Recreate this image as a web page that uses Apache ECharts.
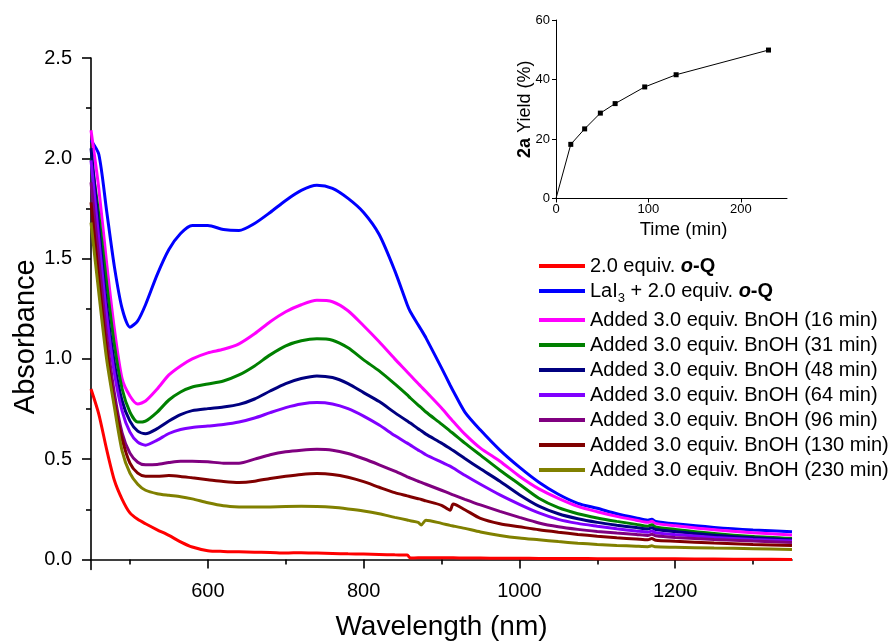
<!DOCTYPE html>
<html><head><meta charset="utf-8">
<script src="https://cdn.jsdelivr.net/npm/echarts@6/dist/echarts.min.js"></script>
<style>html,body{margin:0;padding:0;background:#fff}#c{width:895px;height:641px}</style>
</head><body><div id="c"></div>
<script>
const wavelength = [450,460,470,480,490,500,510,520,535,550,565,580,600,620,640,660,680,700,720,740,760,780,800,820,840,856,860,870,874,880,900,911,915,930,950,975,1000,1025,1050,1075,1100,1125,1150,1165,1170,1175,1200,1250,1300,1350];

const absOQ   = [0.85,0.725,0.55,0.395,0.30,0.232,0.2,0.178,0.148,0.12,0.088,0.062,0.044,0.04,0.038,0.036,0.035,0.032,0.034,0.032,0.03,0.028,0.027,0.025,0.023,0.022,0.007,0.008,0.008,0.008,0.009,0.008,0.008,0.007,0.007,0.006,0.006,0.005,0.005,0.005,0.004,0.004,0.004,0.003,0.004,0.003,0.003,0.002,0.001,0.0];
const absLaI3 = [2.09,2.02,1.74,1.46,1.25,1.158,1.19,1.27,1.42,1.545,1.625,1.665,1.665,1.645,1.64,1.675,1.73,1.79,1.84,1.865,1.85,1.80,1.73,1.62,1.44,1.27,1.235,1.17,1.145,1.105,0.955,0.87,0.84,0.735,0.645,0.545,0.46,0.385,0.325,0.28,0.255,0.228,0.207,0.196,0.2,0.19,0.178,0.16,0.147,0.138];
const abs16   = [2.14,1.85,1.48,1.15,0.90,0.815,0.775,0.79,0.85,0.92,0.965,1.0,1.03,1.048,1.075,1.125,1.185,1.235,1.27,1.292,1.285,1.24,1.165,1.085,1.0,0.935,0.918,0.877,0.861,0.837,0.755,0.705,0.688,0.625,0.555,0.49,0.415,0.352,0.305,0.265,0.238,0.215,0.196,0.185,0.19,0.18,0.168,0.148,0.133,0.122];
const abs31   = [2.0,1.72,1.38,1.07,0.85,0.735,0.685,0.69,0.735,0.795,0.835,0.86,0.875,0.89,0.92,0.965,1.02,1.065,1.09,1.1,1.093,1.055,0.995,0.94,0.875,0.82,0.805,0.77,0.757,0.735,0.675,0.64,0.628,0.58,0.52,0.445,0.375,0.305,0.258,0.228,0.207,0.19,0.175,0.166,0.173,0.162,0.15,0.13,0.115,0.105];
const abs48   = [2.05,1.66,1.27,0.98,0.79,0.69,0.64,0.627,0.652,0.69,0.722,0.742,0.752,0.76,0.773,0.8,0.84,0.877,0.902,0.915,0.907,0.877,0.832,0.787,0.732,0.69,0.68,0.652,0.642,0.625,0.58,0.553,0.543,0.503,0.452,0.39,0.323,0.266,0.228,0.203,0.185,0.171,0.159,0.152,0.158,0.149,0.139,0.121,0.108,0.098];
const abs64   = [1.99,1.6,1.22,0.93,0.74,0.635,0.585,0.57,0.595,0.628,0.648,0.658,0.665,0.673,0.685,0.705,0.732,0.757,0.775,0.782,0.775,0.752,0.715,0.67,0.618,0.58,0.57,0.545,0.537,0.522,0.485,0.465,0.456,0.42,0.375,0.322,0.275,0.232,0.2,0.18,0.166,0.153,0.142,0.136,0.142,0.133,0.124,0.11,0.099,0.092];
const abs96   = [1.88,1.5,1.12,0.83,0.63,0.53,0.485,0.472,0.474,0.483,0.49,0.49,0.487,0.48,0.48,0.5,0.522,0.537,0.545,0.549,0.545,0.528,0.502,0.472,0.44,0.412,0.405,0.39,0.384,0.375,0.345,0.328,0.322,0.3,0.272,0.24,0.21,0.182,0.163,0.15,0.14,0.132,0.125,0.12,0.126,0.118,0.11,0.1,0.092,0.085];
const abs130  = [1.78,1.4,1.05,0.78,0.6,0.48,0.43,0.415,0.415,0.418,0.414,0.407,0.398,0.389,0.384,0.39,0.404,0.415,0.424,0.428,0.424,0.41,0.388,0.36,0.333,0.317,0.313,0.303,0.299,0.292,0.27,0.246,0.276,0.248,0.205,0.178,0.163,0.148,0.136,0.125,0.116,0.108,0.102,0.098,0.104,0.096,0.091,0.082,0.075,0.07];
const abs230  = [1.68,1.33,1.0,0.76,0.54,0.43,0.375,0.345,0.328,0.32,0.313,0.302,0.283,0.268,0.262,0.261,0.262,0.264,0.265,0.264,0.26,0.252,0.242,0.228,0.21,0.197,0.193,0.185,0.172,0.196,0.18,0.17,0.167,0.155,0.137,0.12,0.107,0.098,0.089,0.081,0.075,0.07,0.066,0.064,0.068,0.063,0.061,0.057,0.054,0.05];

const seriesNames = [
  '2.0 equiv. o-Q',
  'LaI3 + 2.0 equiv. o-Q',
  'Added 3.0 equiv. BnOH (16 min)',
  'Added 3.0 equiv. BnOH (31 min)',
  'Added 3.0 equiv. BnOH (48 min)',
  'Added 3.0 equiv. BnOH (64 min)',
  'Added 3.0 equiv. BnOH (96 min)',
  'Added 3.0 equiv. BnOH (130 min)',
  'Added 3.0 equiv. BnOH (230 min)'
];
const seriesValues = [absOQ, absLaI3, abs16, abs31, abs48, abs64, abs96, abs130, abs230];
const seriesColors = ['#FF0000','#0000FF','#FF00FF','#008000','#000080','#8000FF','#800080','#800000','#808000'];

const yTickValues = [0, 0.5, 1.0, 1.5, 2.0, 2.5];
const yMinorValues = [0.25, 0.75, 1.25, 1.75, 2.25];
const xTickValues = [600, 800, 1000, 1200];
const xMinorValues = [500, 700, 900, 1100, 1300];

const insetTime = [0, 16, 31, 48, 64, 96, 130, 230];
const insetYield = [0, 18.2, 23.4, 28.7, 31.9, 37.5, 41.6, 49.9];
const insetXTicks = [0, 100, 200];
const insetYTicks = [0, 20, 40, 60];

const FONT = '"Liberation Sans", Arial, Helvetica, sans-serif';

const legendRich = {};
seriesNames.forEach(n => { legendRich[n] = '{t|' + n + '}'; });
legendRich[seriesNames[0]] = '{t|2.0 equiv. }{bi|o}{b|-Q}';
legendRich[seriesNames[1]] = '{t|LaI}{sub|3}{t| + 2.0 equiv. }{bi|o}{b|-Q}';

const chart = echarts.init(document.getElementById('c'));

const mainSeries = seriesNames.map((n, i) => ({
  name: n, type: 'line', xAxisIndex: 0, yAxisIndex: 0,
  data: wavelength.map((w, j) => [w, seriesValues[i][j]]),
  showSymbol: false, symbol: 'none', smooth: 0.25,
  lineStyle: { width: 3, color: seriesColors[i] },
  itemStyle: { color: seriesColors[i] },
  silent: true, z: 2 + i
}));

const black = { color: '#000', width: 1.6 };

chart.setOption({
  animation: false,
  backgroundColor: '#fff',
  grid: [
    { left: 91, top: 58, width: 701, height: 511.5, outerBoundsMode: 'none', containLabel: false },
    { left: 556, top: 20, width: 231, height: 178.5, outerBoundsMode: 'none', containLabel: false }
  ],
  xAxis: [
    { gridIndex: 0, type: 'value', position: 'bottom', min: 450, max: 1350,
      axisLine: { show: true, lineStyle: black },
      axisTick: { show: true, length: 9, customValues: xTickValues, lineStyle: black },
      axisLabel: { customValues: xTickValues, margin: 12, fontFamily: FONT, fontSize: 20, color: '#000',
        formatter: v => String(Math.round(v)) },
      splitLine: { show: false },
      name: 'Wavelength (nm)', nameLocation: 'middle', nameGap: 44, nameMoveOverlap: false,
      nameTextStyle: { fontFamily: FONT, fontSize: 28, color: '#000' } },
    { gridIndex: 0, type: 'value', position: 'bottom', offset: 0, min: 450, max: 1350,
      axisLine: { show: false },
      axisTick: { show: true, length: 5, customValues: xMinorValues, lineStyle: black },
      axisLabel: { show: false }, splitLine: { show: false } },
    { gridIndex: 1, type: 'value', position: 'bottom', min: 0, max: 250,
      axisLine: { show: true, lineStyle: { color: '#000', width: 1 } },
      axisTick: { show: true, length: 4, customValues: insetXTicks, lineStyle: { color: '#000', width: 1 } },
      axisLabel: { customValues: insetXTicks, margin: 4, fontFamily: FONT, fontSize: 13, color: '#000' },
      splitLine: { show: false },
      name: 'Time (min)', nameLocation: 'middle', nameGap: 22, nameMoveOverlap: false,
      nameTextStyle: { fontFamily: FONT, fontSize: 18.5, color: '#000', padding: [0, 0, 0, 24] } }
  ],
  yAxis: [
    { gridIndex: 0, type: 'value', position: 'left', min: -0.05, max: 2.5,
      axisLine: { show: true, lineStyle: black },
      axisTick: { show: true, length: 9, customValues: yTickValues, lineStyle: black },
      axisLabel: { customValues: yTickValues, margin: 19, fontFamily: FONT, fontSize: 20, color: '#000',
        formatter: v => Number(v).toFixed(1) },
      splitLine: { show: false },
      name: 'Absorbance', nameLocation: 'middle', nameGap: 51, nameRotate: 90, nameMoveOverlap: false,
      nameTextStyle: { fontFamily: FONT, fontSize: 29, color: '#000', padding: [0, 46, 0, 0] } },
    { gridIndex: 0, type: 'value', position: 'left', offset: 0, min: -0.05, max: 2.5,
      axisLine: { show: false },
      axisTick: { show: true, length: 5, customValues: yMinorValues, lineStyle: black },
      axisLabel: { show: false }, splitLine: { show: false } },
    { gridIndex: 1, type: 'value', position: 'left', min: 0, max: 60,
      axisLine: { show: true, lineStyle: { color: '#000', width: 1 } },
      axisTick: { show: true, length: 4, customValues: insetYTicks, lineStyle: { color: '#000', width: 1 } },
      axisLabel: { customValues: insetYTicks, margin: 6, fontFamily: FONT, fontSize: 13, color: '#000' },
      splitLine: { show: false },
      name: '{b|2a} Yield (%)', nameLocation: 'middle', nameGap: 22, nameRotate: 90, nameMoveOverlap: false,
      nameTextStyle: { fontFamily: FONT, fontSize: 18, color: '#000',
        rich: { b: { fontFamily: FONT, fontSize: 18, fontWeight: 'bold', color: '#000' } } } }
  ],
  legend: {
    data: seriesNames, orient: 'vertical', left: 539, top: 256, padding: 0,
    icon: 'rect', itemWidth: 46, itemHeight: 4, itemGap: 5, selectedMode: false,
    formatter: n => legendRich[n],
    textStyle: { fontFamily: FONT, fontSize: 20, color: '#000',
      rich: {
        t: { fontFamily: FONT, fontSize: 20, lineHeight: 20, color: '#000' },
        b: { fontFamily: FONT, fontSize: 20, lineHeight: 20, fontWeight: 'bold', color: '#000' },
        bi: { fontFamily: FONT, fontSize: 20, lineHeight: 20, fontWeight: 'bold', fontStyle: 'italic', color: '#000' },
        sub: { fontFamily: FONT, fontSize: 13, lineHeight: 28, verticalAlign: 'bottom', color: '#000' }
      } }
  },
  series: mainSeries.concat([{
    name: 'inset', type: 'line', xAxisIndex: 2, yAxisIndex: 2,
    data: insetTime.map((t, i) => [t, insetYield[i]]),
    symbol: 'rect', symbolSize: (v, p) => (p.dataIndex === 0 ? 0 : 5),
    lineStyle: { width: 1, color: '#000' }, itemStyle: { color: '#000' }, silent: true
  }])
});
</script>
</body></html>
